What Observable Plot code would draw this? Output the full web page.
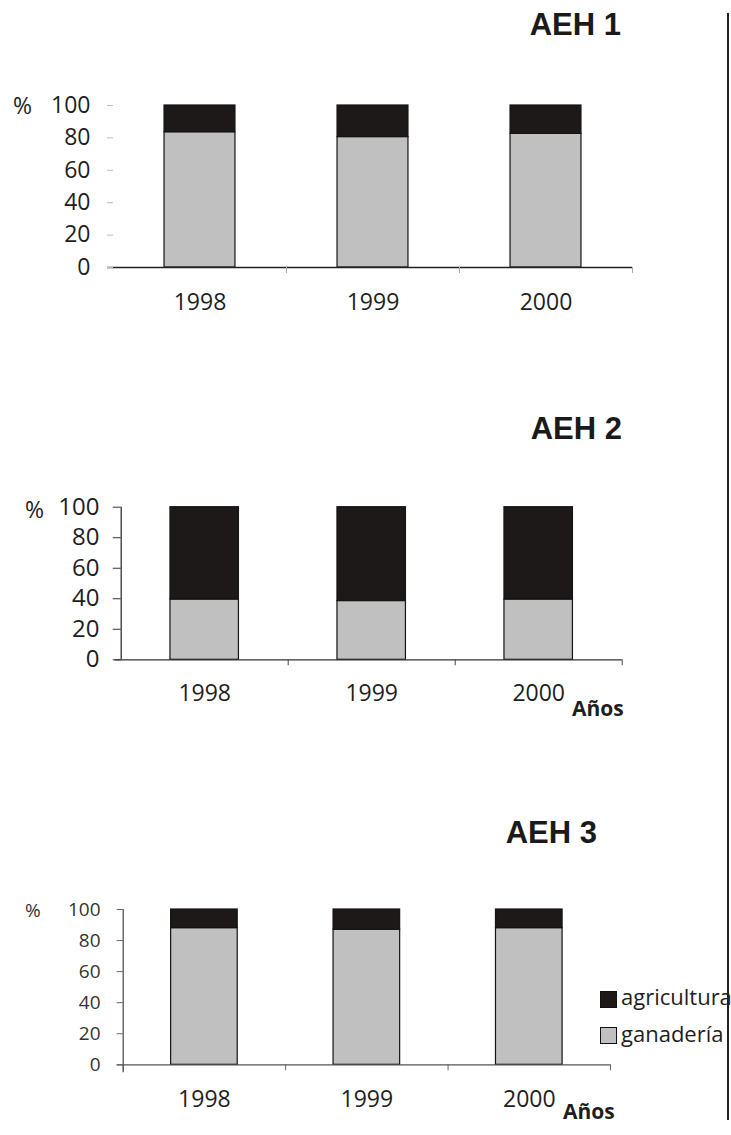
<!DOCTYPE html>
<html>
<head>
<meta charset="utf-8">
<script src="https://cdn.jsdelivr.net/npm/d3@7"></script>
<script src="https://cdn.jsdelivr.net/npm/@observablehq/plot@0.6"></script>
<style>
  html, body { margin: 0; padding: 0; background: #fff; }
  #page { position: relative; width: 731px; height: 1135px; overflow: hidden; background: #fff; }
  .panel { position: absolute; left: 0; z-index: 1; }
  .txt { position: absolute; z-index: 2; white-space: nowrap; color: #1e1e1e; }
  .title { font-family: "Liberation Sans", Arial, sans-serif; font-weight: bold; font-size: 31px; line-height: 31px; text-align: right; color: #1a1a1a; }
  .pct { font-family: "Open Sans", sans-serif; font-size: 23px; line-height: 23px; }
  .anos { font-family: "Open Sans", sans-serif; font-weight: bold; font-size: 21px; line-height: 21px; }
  .leg { font-family: "Open Sans", sans-serif; font-size: 22px; line-height: 22px; }
  .sw { position: absolute; z-index: 2; width: 15px; height: 15px; border: 1px solid #111; }
  #vline { position: absolute; left: 727px; top: 13px; width: 1.5px; height: 1107px; background: #222; z-index: 3; }
</style>
</head>
<body>
<div id="page"><div id="vline"></div></div>
<script>
// ---- data ----
const years = [1998, 1999, 2000];
const series = ["agricultura", "ganadería"];
const titles = ["AEH 1", "AEH 2", "AEH 3"];
const yTicks = [0, 20, 40, 60, 80, 100];
const aeh1Ganaderia = [83.5, 80.5, 82.5];
const aeh1Agricultura = [16.5, 19.5, 17.5];
const aeh2Ganaderia = [39.5, 38.5, 39.5];
const aeh2Agricultura = [60.5, 61.5, 60.5];
const aeh3Ganaderia = [88, 87, 88];
const aeh3Agricultura = [12, 13, 12];
const seriesColors = ["#1c1918", "#c0c0c0"];
const xLabel = "Años";
const yLabel = "%";

// ---- helpers ----
function stackRows(gan, agr) {
  return years.flatMap((yr, i) => [
    {year: yr, serie: series[1], y1: 0, y2: gan[i]},
    {year: yr, serie: series[0], y1: gan[i], y2: gan[i] + agr[i]}
  ]);
}
const HALF = 0.205; // half bar width in band units
const page = document.getElementById("page");

function addText(cls, text, css) {
  const d = document.createElement("div");
  d.className = "txt " + cls;
  d.textContent = text;
  Object.assign(d.style, css);
  page.appendChild(d);
  return d;
}

function panel(cfg) {
  const data = stackRows(cfg.gan, cfg.agr);
  const boundaries = (cfg.leftTick ? [years[0] - 0.5] : []).concat(years.map(y => y + 0.5));
  const marks = [
    Plot.rectY(data, {
      x1: d => d.year - HALF, x2: d => d.year + HALF,
      y1: "y1", y2: "y2", fill: "serie", stroke: "#141414", strokeWidth: 1.2
    }),
    Plot.ruleY([0], {stroke: cfg.axisColor, strokeWidth: 1.3, insetLeft: -6}),
    Plot.axisY({ticks: yTicks, tickSize: cfg.yTickSize, tickPadding: cfg.yPad,
      stroke: cfg.tickColor, fill: cfg.yTextColor, fontSize: cfg.yFont, tickFormat: d3.format("d")}),
    Plot.axisX({ticks: years, tickSize: 0, tickPadding: cfg.xPad, fill: "#1e1e1e",
      fontSize: 23, tickFormat: d3.format("d")}),
    Plot.axisX({ticks: boundaries, tickSize: 6, tickFormat: () => "", stroke: cfg.bTickColor})
  ];
  if (cfg.yLine) {
    marks.push(Plot.ruleX([years[0] - 0.5], {stroke: cfg.axisColor, strokeWidth: 1.3, insetBottom: cfg.yLineExt}));
  }
  const chart = Plot.plot({
    width: 731,
    height: cfg.height,
    marginTop: cfg.mt, marginBottom: cfg.mb, marginLeft: cfg.ml, marginRight: cfg.mr,
    x: {type: "linear", domain: [years[0] - 0.5, years[years.length - 1] + 0.5]},
    y: {domain: [0, 100]},
    color: {domain: series, range: seriesColors},
    style: {fontFamily: "'Open Sans', sans-serif", fontSize: "23px", color: "#1e1e1e", background: "transparent", overflow: "visible"},
    marks
  });
  const wrap = document.createElement("div");
  wrap.className = "panel";
  wrap.style.top = cfg.top + "px";
  wrap.appendChild(chart);
  page.appendChild(wrap);
}

// Panel 1
panel({top: 60, height: 280, mt: 45, mb: 73, ml: 113, mr: 99,
  gan: aeh1Ganaderia, agr: aeh1Agricultura,
  yTickSize: 6, yPad: 17, tickColor: "#bbb", yFont: 23, yTextColor: "#1e1e1e", xPad: 26,
  axisColor: "#222", bTickColor: "#aaa", yLine: false});
// Panel 2
panel({top: 470, height: 270, mt: 36.7, mb: 80.7, ml: 120.7, mr: 109.3,
  gan: aeh2Ganaderia, agr: aeh2Agricultura,
  yTickSize: 8, yPad: 13.7, tickColor: "#333", yFont: 24, yTextColor: "#1e1e1e", xPad: 25,
  axisColor: "#333", bTickColor: "#444", yLine: true, yLineExt: 0});
// Panel 3
panel({top: 880, height: 255, mt: 29, mb: 70.7, ml: 122.7, mr: 121,
  gan: aeh3Ganaderia, agr: aeh3Agricultura,
  yTickSize: 6, yPad: 16.7, tickColor: "#666", yFont: 19, yTextColor: "#333", xPad: 26,
  axisColor: "#555", bTickColor: "#666", yLine: true, yLineExt: -8, leftTick: true});

// Titles
addText("title", titles[0], {right: "110px", top: "9px"});
addText("title", titles[1], {right: "109px", top: "413px"});
addText("title", titles[2], {right: "134px", top: "817px"});
// % labels
addText("pct", yLabel, {left: "13px", top: "94px"});
addText("pct", yLabel, {left: "25px", top: "498px"});
addText("pct", yLabel, {left: "25px", top: "901px", fontSize: "19px", lineHeight: "19px", color: "#333"});
// Años labels
addText("anos", xLabel, {left: "572px", top: "698px"});
addText("anos", xLabel, {left: "563px", top: "1101px"});
// Legend
series.forEach((s, i) => {
  const sw = document.createElement("div");
  sw.className = "sw";
  sw.style.left = "600px";
  sw.style.top = (991 + i * 36) + "px";
  sw.style.background = seriesColors[i];
  page.appendChild(sw);
  addText("leg", s, {left: "621px", top: (985 + i * 37) + "px"});
});
</script>
</body>
</html>
